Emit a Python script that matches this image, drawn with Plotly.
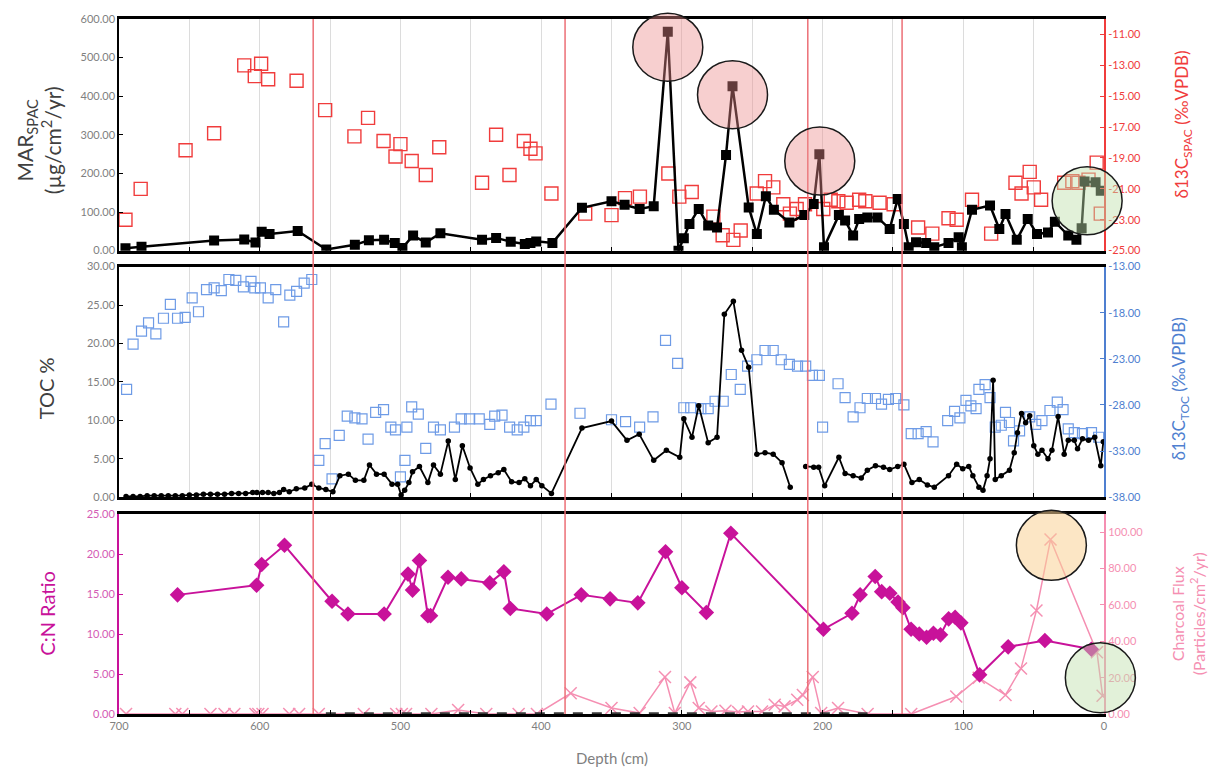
import plotly.graph_objects as go

# ---------------- data ----------------
# top panel: MAR_SPAC (left) and d13C_SPAC (right)
mar_depth = [695.4, 684, 632.4, 611, 603, 598.6, 593, 573, 552.7, 532.4, 522.4, 511.6, 504, 498.6, 491, 482,
             471.6, 442, 432, 421.6, 411.6, 407.6, 403.5, 392, 371, 350, 340.7, 330, 320, 310, 302.4, 298.6,
             294.6, 288, 281.3, 275, 268.6, 264, 252.5, 246.7, 240.3, 234.6, 223.6, 213, 206.3, 202.3, 199,
             188.4, 184, 178.3, 174, 168.2, 161, 152.3, 146.6, 142.2, 138.8, 133.6, 126.4, 120.6, 110.5, 103.3,
             101, 93.8, 81, 74.4, 70, 62, 54.2, 47.6, 39.8, 34.9, 25.4, 19.6, 15.9, 13.8, 6, 2.3]
mar_value = [6, 10, 26, 29, 21, 49, 43, 51, 3, 15, 27, 28, 20, 7, 39, 21,
             45, 28, 33, 23, 17, 20, 24, 20, 111, 128, 119, 108, 115, 567, 0, 32,
             69, 108, 65, 60, 248, 426, 112, 43, 141, 106, 73, 92, 121, 250, 9,
             92, 78, 39, 82, 86, 86, 56, 134, 69, 9, 22, 20, 9, 20, 35,
             9, 106, 117, 56, 95, 28, 82, 43, 47, 75, 39, 28, 58, 179, 177, 155]

spac_depth = [695.4, 684.6, 652.7, 632.4, 611, 603.5, 599, 594, 573.8, 553.5, 532.7, 523, 512, 503.5, 500, 492,
              482, 472.4, 442, 432, 422.5, 412.3, 407.6, 404, 392.7, 368.7, 350, 340.4, 329.8, 309.6, 301.8, 293,
              277.6, 271, 263.4, 258.2, 246.8, 240.9, 235, 227.9, 223.2, 218.4, 212.5, 199.5, 194.2, 188.8, 182.9,
              174, 169.6, 159.5, 149.5, 132.1, 122, 110.5, 104.7, 93.8, 80.2, 62.9, 58.6, 52.8, 49.9, 44.7, 28.3,
              22.5, 18.2, 11, 5.2, 2.3]
spac_value = [-23.0, -21.0, -18.5, -17.4, -13.0, -13.7, -12.9, -13.9, -14.0, -15.9, -17.6, -16.4, -17.9, -18.9, -18.1, -19.2,
              -20.1, -18.3, -20.6, -17.5, -20.1, -17.9, -18.4, -18.7, -21.3, -22.6, -22.7, -21.6, -21.5, -20.0, -21.5, -21.2,
              -22.8, -24.0, -24.3, -23.7, -21.3, -20.5, -20.9, -22.0, -22.6, -22.3, -22.0, -22.3, -21.7, -21.8, -21.9,
              -21.7, -21.8, -21.9, -22.0, -23.5, -23.9, -22.9, -23.0, -21.7, -23.9, -20.6, -21.3, -19.9, -20.9, -21.7, -20.6,
              -20.5, -20.6, -20.4, -19.3, -22.6]

# middle panel: TOC % (left) and d13C_TOC (right)
toc_depth = [695, 690, 685, 680, 675, 670, 665, 660, 655, 650,
             645, 640, 635, 630, 625, 620, 615, 610, 605, 602,
             598, 594, 590, 586, 583, 579, 574, 568, 563, 558,
             553, 548, 543, 537, 532, 526, 522, 517, 511.6, 506,
             502, 499.5, 497, 494, 491.4, 486.5, 480.5, 476.5, 471.6, 466,
             461, 456, 450.5, 445, 441, 436, 430.5, 426.5, 421, 415.7,
             411.6, 407.6, 403.5, 399.5, 392.7, 371, 350, 339, 330.3, 320,
             311, 301.5, 298.6, 292.8, 288, 281.3, 275, 269.8, 263.4, 257.6,
             252.5, 246.7, 240.9, 235.1, 228.8, 223, 217, 212, 206.3, 202.8,
             198.5, 188.4, 184, 178.3, 172.5, 168.2, 162.4, 156.7, 152.3, 146.6,
             142.2, 136.5, 131.3, 125.5, 120.6, 110.5, 104.7, 100.4, 96.1, 93.2,
             88.9, 86, 83.1, 81, 78.8, 77.3, 73, 67.2, 63.8, 61.5,
             58.6, 55.7, 52.8, 49.9, 47, 44.1, 39.8, 37, 32.6, 28.3,
             25.4, 21.1, 18.8, 15.3, 11, 6.6, 2.3, 0.5]
toc_value = [0.1, 0.1, 0.1, 0.2, 0.2, 0.2, 0.2, 0.2, 0.2, 0.3,
             0.3, 0.4, 0.4, 0.4, 0.4, 0.5, 0.5, 0.5, 0.6, 0.6,
             0.6, 0.6, 0.5, 0.6, 1.0, 0.7, 1.1, 1.2, 1.7, 1.2,
             1.0, 0.7, 2.8, 3.0, 2.2, 2.2, 4.2, 3.0, 3.0, 1.7,
             1.7, 0.3, 0.9, 1.9, 3.3, 4.0, 1.9, 4.2, 3.0, 7.3,
             2.3, 6.7, 3.8, 1.7, 2.3, 2.8, 3.2, 3.6, 2.0, 1.9,
             2.4, 1.5, 2.3, 1.5, 0.5, 9.0, 9.9, 7.4, 8.2, 4.8,
             6.1, 5.2, 10.2, 7.8, 11.9, 7.1, 7.8, 23.8, 25.5, 19.1,
             16.9, 5.6, 5.8, 5.6, 4.5, 1.3, None, 4.0, 3.9, 3.9,
             1.5, 5.2, 3.1, 2.8, 2.5, 3.5, 4.1, 3.9, 3.6, 4.0,
             4.3, 1.9, 2.3, 1.6, 1.3, 2.8, 4.3, 3.7, 4.0, 2.8,
             1.3, 0.9, 2.8, 5.0, 15.2, 2.3, 2.8, 3.5, 5.8, 8.4,
             10.9, 9.7, 10.6, 6.7, 5.6, 6.1, 5.0, 6.1, 10.5, 5.6,
             7.4, 7.4, 6.3, 7.6, 7.4, 7.8, 4.1, 7.2]

dtoc_depth = [694.6, 690, 684, 679, 673.8, 668.4, 663.5, 658.4, 653, 648, 643.5, 637.8, 632.4, 627.3, 621.9, 617,
              611.6, 606.2, 603.5, 599.5, 594, 588.6, 583, 578.6, 573.8, 568.4, 563, 558, 553.5, 548.6, 543.5, 537.8,
              532.4, 527.3, 523, 517.6, 512, 506.8, 503.5, 500, 496.8, 495.4, 492, 487.3, 482, 476.5, 471.6, 461.6,
              456.8, 450.8, 444, 436.5, 433, 427.8, 422.4, 417, 412.3, 407.6, 403.5, 393, 372.4,
              350, 340, 330, 320.5, 311.6, 303, 298.6, 293.7, 286.5, 281.3, 276.4, 270.6, 264.9, 258.5, 253.3, 246.7,
              240.9, 235.1, 229.4, 223.6, 217.8, 212, 207.2, 202.3, 200, 189, 184, 178.3, 173.4, 168.2, 162.4, 158.1,
              153.2, 148, 142.2, 137, 132.1, 126.4, 121.5, 111.1, 106.2, 102.4, 98.1, 94.6, 90.9, 88.9, 84.5, 81,
              77.3, 73, 70, 67.2, 64.3, 60, 52.8, 48.5, 44.1, 38.4, 33.2, 29.1, 25.4, 21.1, 15.3, 8.9, 3.8]
dtoc_value = [-26.3, -21.4, -20.0, -19.1, -20.3, -18.6, -17.1, -18.6, -18.5, -16.4, -17.9, -15.5, -15.3, -15.6, -14.4, -14.5,
              -15.2, -14.6, -15.3, -15.3, -16.4, -15.5, -19.0, -16.1, -15.7, -14.8, -14.4, -34.0, -32.2, -36.0, -31.3, -29.2,
              -29.4, -29.5, -31.7, -28.8, -28.5, -30.4, -30.7, -35.8, -34.0, -30.4, -28.2, -29.0, -32.7, -30.4, -30.7, -30.4,
              -29.5, -29.5, -29.5, -30.1, -29.2, -29.1, -30.4, -30.7, -30.4, -29.7, -29.7, -27.9, -28.9,
              -29.6, -29.8, -30.4, -29.3, -21.0, -23.5, -28.3, -28.3, -28.4, -28.4, -27.6, -27.6, -24.7, -26.3, -23.8, -23.1,
              -22.1, -22.1, -23.1, -23.6, -23.8, -23.8, -24.8, -24.8, -30.4, -25.7, -27.2, -29.3, -28.3, -27.3, -27.3, -27.9,
              -27.4, -27.3, -28.0, -31.1, -31.1, -30.9, -32.0, -29.7, -28.7, -29.4, -27.5, -28.1, -28.4, -26.3, -25.8, -27.2,
              -30.4, -30.2, -28.8, -29.9, -31.9, -30.8, -29.3, -30.1, -29.7, -28.6, -27.7, -28.5, -30.6, -31.0, -31.1, -31.0, -31.5]

# bottom panel: C:N ratio (left) and charcoal flux (right)
cn_depth = [658.4, 602.2, 598.6, 582.4, 548.6, 537.3, 511.6, 494.6, 491.4, 486.5, 480.5, 478.6, 466.2, 456.8, 436.5,
            426.5, 421.9, 396, 371.5, 351, 331.3, 311.6, 300, 282.6, 265.2, 199.4, 179.1, 173.3, 162.6, 158,
            152.2, 146.4, 142.9, 137.1, 131.3, 126.1, 121.2, 116.2, 110.4, 105.8, 101.7, 88.4, 68.1, 42, 9]
cn_value = [14.9, 16.1, 18.7, 21.1, 14.1, 12.5, 12.5, 17.5, 15.5, 19.2, 12.3, 12.3, 17.1, 16.9, 16.4,
            17.8, 13.2, 12.5, 14.9, 14.4, 13.9, 20.3, 15.8, 12.7, 22.6, 10.6, 12.6, 14.9, 17.2, 15.3,
            15.1, 14.0, 13.3, 10.6, 10.0, 9.6, 10.1, 9.9, 11.9, 12.1, 11.4, 4.9, 8.4, 9.2, 8.1]

char_depth = [695, 660, 655, 635, 625, 618, 603, 601, 598, 579, 572, 558, 526, 503, 499, 496, 478, 459, 439, 416,
              403, 379, 350, 330, 312, 305, 294, 288, 279, 269, 260, 253, 243, 234, 227, 218, 214, 207, 201, 189,
              168, 137, 105, 89, 70, 59, 48, 38, 5, 1]
char_value = [0, 0, 0, 0, 0, 0, 0, 0, 0, 0, 0, 0, 0, 0, 0, 0, 0, 2.2, 0, 0,
              0, 11.4, 3.3, 0.5, 20.4, 0.5, 17.4, 3.3, 1.4, 1.8, 1.1, 1.4, 1.4, 5.1, 4.2, 7.8, 10.5, 20.4, 0.5, 3.3,
              0, 0, 9.6, 19.9, 10.5, 25, 57, 96, 34, 10]

zero_depth = [553, 168]
zero_value = [0, 0]

# zone boundaries (depth, cm)
zone_depth = [562, 383, 210.5, 143.5]

# highlight circles (centre depth / centre value)
hl_top_depth = [310, 264, 202, 12]
hl_top_value = [527, 404, 232, 129]
hl_top_fill = ["rgba(236,140,140,0.42)", "rgba(236,140,140,0.42)", "rgba(236,140,140,0.42)",
               "rgba(190,225,170,0.45)"]
hl_bot_depth = [37.4, 2.6]
hl_bot_value = [92.8, 20]
hl_bot_fill = ["rgba(250,210,150,0.55)", "rgba(190,225,170,0.45)"]

# axis ranges
x_range = [700, 0]
mar_range = [0, 600]
char_range = [0, 110]

# tick labels
x_ticks = [0, 100, 200, 300, 400, 500, 600, 700]
mar_ticks = [0, 100, 200, 300, 400, 500, 600]
spac_ticks = [-25, -23, -21, -19, -17, -15, -13, -11]
toc_ticks = [0, 5, 10, 15, 20, 25, 30]
dtoc_ticks = [-38, -33, -28, -23, -18, -13]
cn_ticks = [0, 5, 10, 15, 20, 25]
char_ticks = [0, 20, 40, 60, 80, 100]

for a, b in [(mar_depth, mar_value), (spac_depth, spac_value), (toc_depth, toc_value),
             (dtoc_depth, dtoc_value), (cn_depth, cn_value), (char_depth, char_value)]:
    assert len(a) == len(b), (len(a), len(b))

def lab(v):
    return [f"{t:.2f}" for t in v]

def frac(v, rng):
    return (v - rng[0]) / (rng[1] - rng[0])

# ---------------- colours ----------------
BLACK = "#000000"
RED = "#F03C3C"
BLUE = "#6E9BE6"
BLUE_AX = "#4F7FD0"
MAG = "#C8129A"
PINK = "#F58FB2"
GREY = "#7F7F7F"
FONT = "Lato"

fig = go.Figure()

# bottom
fig.add_trace(go.Scatter(x=char_depth, y=char_value, xaxis="x", yaxis="y", mode="lines+markers",
                         line=dict(color=PINK, width=1.5),
                         marker=dict(symbol="x-thin", size=12, line=dict(color=PINK, width=1.5)),
                         name="Charcoal flux"))
fig.add_trace(go.Scatter(x=cn_depth, y=cn_value, xaxis="x", yaxis="y2", mode="lines+markers",
                         line=dict(color=MAG, width=2),
                         marker=dict(symbol="diamond", size=12, color=MAG),
                         name="C:N"))
fig.add_trace(go.Scatter(x=zero_depth, y=zero_value, xaxis="x", yaxis="y2", mode="lines",
                         line=dict(color="#3A3A3A", width=3.5, dash="10px,9px"),
                         name="zero"))
# middle
fig.add_trace(go.Scatter(x=dtoc_depth, y=dtoc_value, xaxis="x2", yaxis="y3", mode="markers",
                         marker=dict(symbol="square-open", size=10, color=BLUE, line=dict(width=1.2)),
                         name="d13C TOC"))
fig.add_trace(go.Scatter(x=toc_depth, y=toc_value, xaxis="x2", yaxis="y4", mode="lines+markers",
                         line=dict(color=BLACK, width=1.8), connectgaps=False,
                         marker=dict(symbol="circle", size=5.5, color=BLACK),
                         name="TOC"))
# top
fig.add_trace(go.Scatter(x=spac_depth, y=spac_value, xaxis="x3", yaxis="y5", mode="markers",
                         marker=dict(symbol="square-open", size=13, color=RED, line=dict(width=1.4)),
                         name="d13C SPAC"))
fig.add_trace(go.Scatter(x=mar_depth, y=mar_value, xaxis="x3", yaxis="y6", mode="lines+markers",
                         line=dict(color=BLACK, width=2.5),
                         marker=dict(symbol="square", size=10, color=BLACK),
                         name="MAR SPAC"))

# ---------------- layout ----------------
tickfont = dict(family=FONT, size=11, color=GREY)
dom_bot = [0.0, 0.2876]
dom_mid = [0.3119, 0.6438]
dom_top = [0.6667, 1.0]

def xax(anchor, labels, minor_grid):
    d = dict(range=x_range, anchor=anchor, showline=True, linecolor=BLACK, linewidth=2.5, mirror=True,
             tickvals=x_ticks, showticklabels=labels, ticks="inside", ticklen=4, tickcolor=BLACK,
             showgrid=True, gridcolor="#DCDCDC", gridwidth=1, zeroline=False,
             tickfont=tickfont)
    d["minor"] = dict(dtick=50, tick0=0, ticks="inside", ticklen=4, tickcolor=BLACK,
                      showgrid=minor_grid, gridcolor="#DCDCDC")
    return d

fig.update_layout(
    width=1217, height=772,
    margin=dict(l=119, r=113, t=15, b=58),
    paper_bgcolor="white", plot_bgcolor="white",
    showlegend=False,
    font=dict(family=FONT, color=GREY),
    xaxis=xax("y", True, False),
    xaxis2=dict(xax("y3", False, True), matches="x"),
    xaxis3=dict(xax("y5", False, True), matches="x"),
    # bottom: charcoal (right, base) + C:N (left, overlay)
    yaxis=dict(domain=dom_bot, range=char_range, side="right", anchor="x",
               tickvals=char_ticks, ticktext=lab(char_ticks), tickfont=dict(family=FONT, size=11, color=PINK),
               showline=True, linecolor=PINK, linewidth=2, ticks="inside", ticklen=4, tickcolor=PINK,
               showgrid=False, zeroline=False),
    yaxis2=dict(range=[0, 25], overlaying="y", side="left", anchor="x",
                tickvals=cn_ticks, ticktext=lab(cn_ticks), tickfont=dict(family=FONT, size=11, color="#D45BB5"),
                showline=True, linecolor=MAG, linewidth=2, ticks="inside", ticklen=4, tickcolor=MAG,
                showgrid=False, zeroline=False),
    # middle: d13C TOC (right, base) + TOC (left, overlay)
    yaxis3=dict(domain=dom_mid, range=[-38, -13], side="right", anchor="x2",
                tickvals=dtoc_ticks, ticktext=lab(dtoc_ticks), tickfont=dict(family=FONT, size=11, color=BLUE_AX),
                showline=True, linecolor=BLUE_AX, linewidth=2, ticks="inside", ticklen=4, tickcolor=BLUE_AX,
                showgrid=False, zeroline=False),
    yaxis4=dict(range=[0, 30], overlaying="y3", side="left", anchor="x2",
                tickvals=toc_ticks, ticktext=lab(toc_ticks), tickfont=tickfont,
                showline=True, linecolor=BLACK, linewidth=1.5, ticks="inside", ticklen=4, tickcolor=BLACK,
                showgrid=False, zeroline=False),
    # top: d13C SPAC (right, base) + MAR (left, overlay)
    yaxis5=dict(domain=dom_top, range=[-25, -10], side="right", anchor="x3",
                tickvals=spac_ticks, ticktext=lab(spac_ticks), tickfont=dict(family=FONT, size=11, color=RED),
                showline=True, linecolor=RED, linewidth=2, ticks="inside", ticklen=4, tickcolor=RED,
                showgrid=False, zeroline=False),
    yaxis6=dict(range=mar_range, overlaying="y5", side="left", anchor="x3",
                tickvals=mar_ticks, ticktext=lab(mar_ticks), tickfont=tickfont,
                showline=True, linecolor=BLACK, linewidth=1.5, ticks="inside", ticklen=4, tickcolor=BLACK,
                showgrid=False, zeroline=False),
)

shapes = []
for d in zone_depth:
    shapes.append(dict(type="line", xref="x", yref="paper", x0=d, x1=d, y0=0, y1=1,
                       line=dict(color="#EC6F76", width=1.5), layer="above"))

R = 35
for d, v, f in zip(hl_top_depth, hl_top_value, hl_top_fill):
    shapes.append(dict(type="circle", xref="x3 domain", yref="y6 domain",
                       xsizemode="pixel", ysizemode="pixel",
                       xanchor=frac(d, x_range), yanchor=frac(v, mar_range),
                       x0=-R, x1=R, y0=-R + 1, y1=R - 1,
                       fillcolor=f, line=dict(color="#1A1A1A", width=1.5), layer="above"))
for d, v, f in zip(hl_bot_depth, hl_bot_value, hl_bot_fill):
    shapes.append(dict(type="circle", xref="x domain", yref="y domain",
                       xsizemode="pixel", ysizemode="pixel",
                       xanchor=frac(d, x_range), yanchor=frac(v, char_range),
                       x0=-R, x1=R, y0=-R, y1=R,
                       fillcolor=f, line=dict(color="#1A1A1A", width=1.5), layer="above"))
fig.update_layout(shapes=shapes)

ann = [
    dict(text="MAR<sub>SPAC</sub><br>(µg/cm<sup>2</sup>/yr)", x=-0.082, y=0.826, textangle=-90,
         font=dict(family=FONT, size=21, color="#404040")),
    dict(text="TOC %", x=-0.074, y=0.469, textangle=-90, font=dict(family=FONT, size=20, color="#404040")),
    dict(text="C:N Ratio", x=-0.074, y=0.1445, textangle=-90, font=dict(family=FONT, size=20, color=MAG)),
    dict(text="δ13C<sub>SPAC</sub> (‰VPDB)", x=1.08, y=0.848, textangle=-90,
         font=dict(family=FONT, size=17, color=RED)),
    dict(text="δ13C<sub>TOC</sub> (‰VPDB)", x=1.077, y=0.468, textangle=-90,
         font=dict(family=FONT, size=17, color=BLUE_AX)),
    dict(text="Charcoal Flux<br>(Particles/cm<sup>2</sup>/yr)", x=1.085, y=0.1445, textangle=-90,
         font=dict(family=FONT, size=16, color=PINK)),
    dict(text="Depth (cm)", x=0.5, y=-0.064, font=dict(family=FONT, size=15, color=GREY)),
]
for a in ann:
    a.update(xref="paper", yref="paper", showarrow=False, xanchor="center", yanchor="middle")
fig.update_layout(annotations=ann)

fig.write_html("out.html")
